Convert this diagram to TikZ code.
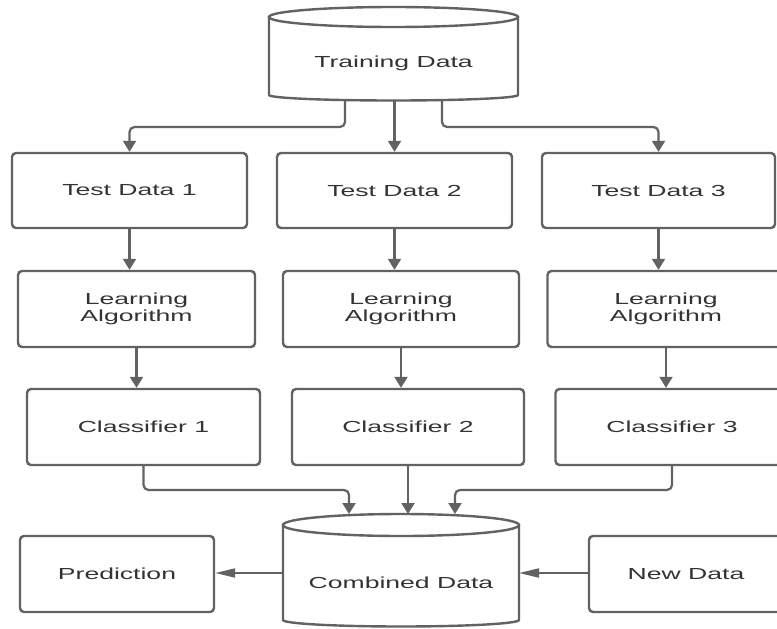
\documentclass[tikz,border=0pt]{standalone}
\usepackage{fontspec}
\newfontfamily\lab[FakeStretch=1.66]{Liberation Sans}
\usetikzlibrary{arrows.meta,calc}
\definecolor{edge}{HTML}{626262}
\definecolor{txt}{HTML}{333333}
\begin{document}
\begin{tikzpicture}[x=1pt,y=-1pt,
  labfont/.style={font=\lab\fontsize{16}{17}\selectfont,text=txt,align=center},
  box/.style={draw=edge,line width=2.4pt,rounded corners=4pt,fill=white,labfont,inner sep=0pt},
  cyl/.style={draw=edge,line width=2.4pt,fill=white},
  link/.style={draw=edge,line width=2.2pt,rounded corners=5pt,-{Triangle[length=11pt,width=13pt]}},
  hlink/.style={draw=edge,line width=2pt,-{Triangle[length=20pt,width=9pt]}}]
\useasboundingbox (0,0) rectangle (777,629);
\clip (0,0) rectangle (777,629);
\fill[white] (0,0) rectangle (777,629);

% Training Data cylinder
\draw[cyl] (269,17) -- (269,95) arc[start angle=180,end angle=0,x radius=124.5,y radius=5.5] -- (518,17) -- cycle;
\draw[cyl] (393.5,17) ellipse[x radius=124.5,y radius=10];
\node[labfont] (trd) at (393.5,63) {Training Data};
\coordinate (trdA) at (345,100.5);
\coordinate (trdB) at (394.5,101);
\coordinate (trdC) at (442,100.5);
\coordinate (trow) at (0,127);

% Test data
\node[box,minimum width=235pt,minimum height=75pt] (t1) at (129.5,190.5) {Test Data 1};
\node[box,minimum width=235pt,minimum height=75pt] (t2) at (394.5,190.5) {Test Data 2};
\node[box,minimum width=233pt,minimum height=75pt] (t3) at (658.5,190.5) {Test Data 3};

% Learning algorithm
\node[box,minimum width=237pt,minimum height=76pt] (l1) at (136.5,309) {Learning\\Algorithm};
\node[box,minimum width=236pt,minimum height=76pt] (l2) at (401,309) {Learning\\Algorithm};
\node[box,minimum width=237pt,minimum height=76pt] (l3) at (666,309) {Learning\\Algorithm};

% Classifiers
\node[box,minimum width=233pt,minimum height=76pt] (c1) at (143.5,427) {Classifier 1};
\node[box,minimum width=232pt,minimum height=76pt] (c2) at (408,427) {Classifier 2};
\node[box,minimum width=233pt,minimum height=76pt] (c3) at (672,427) {Classifier 3};

% Combined Data cylinder
\draw[cyl] (283,525) -- (283,620) arc[start angle=180,end angle=0,x radius=118,y radius=6.5] -- (519,525) -- cycle;
\draw[cyl] (401,525) ellipse[x radius=118,y radius=11];
\node[labfont] (comb) at (401,583) {Combined Data};
\coordinate (cmA) at (349,514);
\coordinate (cmC) at (455,514);
\coordinate (crow) at (0,490);
\coordinate (combL) at (283,573);
\coordinate (combR) at (519,573);

% Prediction / New Data
\node[box,minimum width=194pt,minimum height=76pt] (pred) at (117,574) {Prediction};
\node[box,minimum width=194pt,minimum height=76pt] (newd) at (686,574) {New Data};

% connectors from training data
\draw[link] (trdA) -- (trdA |- trow) -- (t1.north |- trow) -- (t1.north);
\draw[link] (trdB) -- (t2.north);
\draw[link] (trdC) -- (trdC |- trow) -- (t3.north |- trow) -- (t3.north);

% column connectors
\draw[link] (t1.south) -- (t1.south |- l1.north);
\draw[link] (t2.south) -- (t2.south |- l2.north);
\draw[link] (t3.south) -- (t3.south |- l3.north);
\draw[link] (l1.south) -- (l1.south |- c1.north);
\draw[link] (l2.south) -- (l2.south |- c2.north);
\draw[link] (l3.south) -- (l3.south |- c3.north);

% into combined data
\draw[link] (c1.south) -- (c1.south |- crow) -- (cmA |- crow) -- (cmA);
\draw[link] (c2.south) -- (c2.south |- cmA);
\draw[link] (c3.south) -- (c3.south |- crow) -- (cmC |- crow) -- (cmC);

% horizontal
\draw[hlink] (combL) -- (combL -| pred.east);
\draw[hlink] (newd.west |- combR) -- (combR);
\end{tikzpicture}
\end{document}
